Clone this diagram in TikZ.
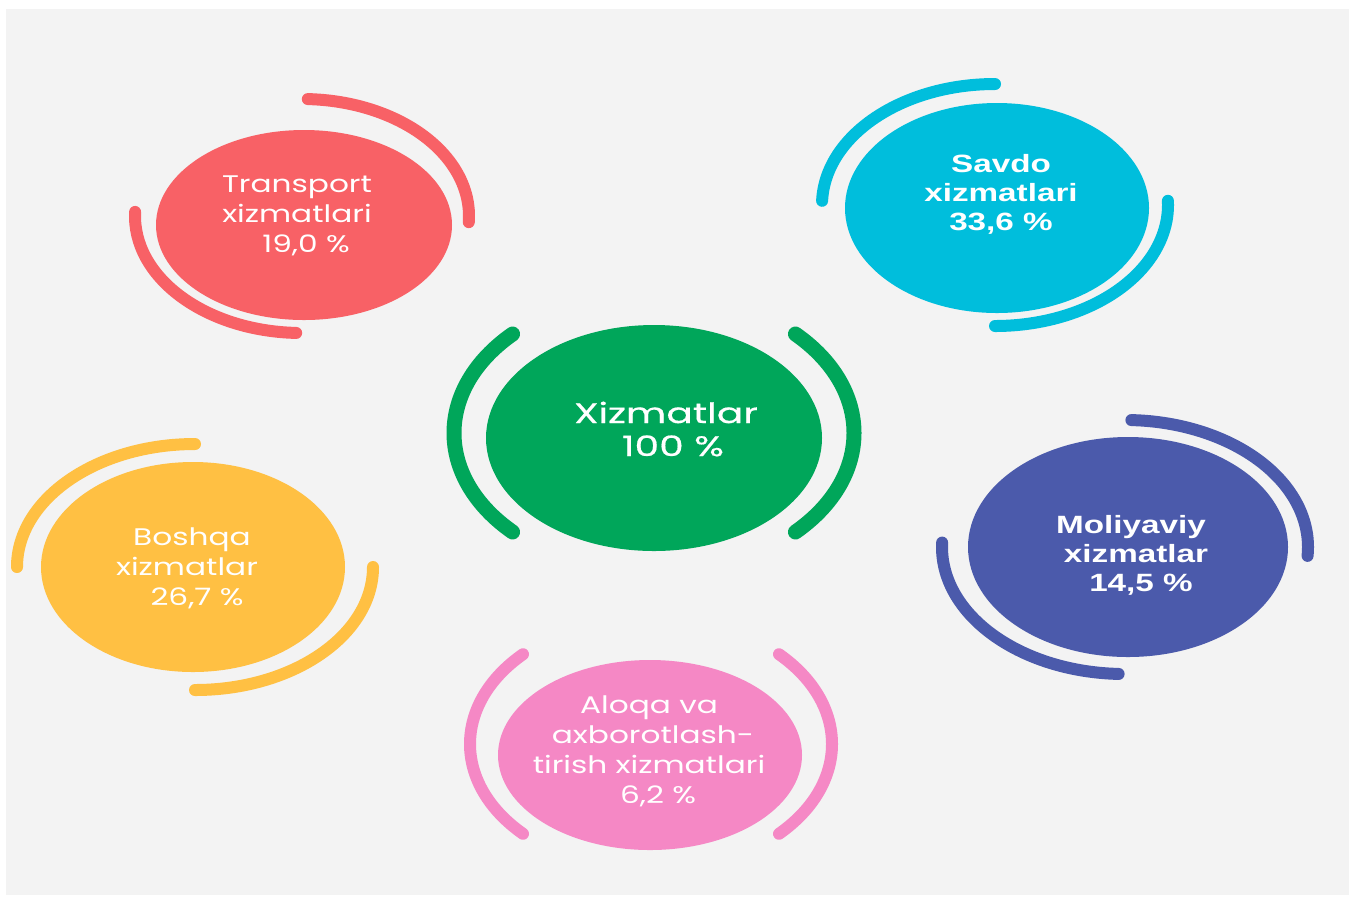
\documentclass[tikz,border=0pt]{standalone}
\usepackage{fontspec}
\setmainfont{Poppins}
\newfontfamily\popw[FakeStretch=1.3]{Poppins}
\newfontfamily\popm[FakeStretch=1.4,FakeBold=0.6]{Poppins}
\newfontfamily\arialb[FakeStretch=1.33]{Liberation Sans}
\usetikzlibrary{shapes.geometric}
\definecolor{bggray}{HTML}{F3F3F3}
\definecolor{cred}{HTML}{F86166}
\definecolor{ccyan}{HTML}{00BEDC}
\definecolor{cgreen}{HTML}{00A65A}
\definecolor{cyellow}{HTML}{FFC043}
\definecolor{cblue}{HTML}{4B5AAB}
\definecolor{cpink}{HTML}{F588C5}
\tikzset{
  blob/.style={ellipse, inner sep=0pt, draw=none},
  ring/.style={line width=6pt, line cap=round},
  lighttxt/.style={text=white, align=center, font=\popw\fontsize{12}{15}\selectfont},
  boldtxt/.style={text=white, align=center, font=\arialb\bfseries\fontsize{12.5}{14.5}\selectfont},
  maintxt/.style={text=white, align=center, font=\popm\fontsize{14}{16.5}\selectfont}
}
\begin{document}
\begin{tikzpicture}[x=0.5pt,y=-0.5pt]
\useasboundingbox (0,0) rectangle (1353,896);
\fill[white] (0,0) rectangle (1353,896);
\fill[bggray] (6,9) rectangle (1349,895);

% Transport
\node[blob, fill=cred, minimum width=148pt, minimum height=95pt] (tr) at (304,225) {};
\draw[ring, cred] (302,216) ++(272:167 and 117) arc[start angle=272, end angle=363, x radius=167, y radius=117];
\draw[ring, cred] (302,216) ++(182:167 and 117) arc[start angle=182, end angle=92, x radius=167, y radius=117];
\node[lighttxt] (trt) at (297,216) {Transport\\xizmatlari\\\hspace*{9pt}19,0 \%};

% Savdo
\node[blob, fill=ccyan, minimum width=152pt, minimum height=105pt] (sv) at (997,208) {};
\draw[ring, ccyan] (995,205) ++(182:173 and 121) arc[start angle=182, end angle=270, x radius=173, y radius=121];
\draw[ring, ccyan] (995,205) ++(358:173 and 121) arc[start angle=358, end angle=450, x radius=173, y radius=121];
\node[boldtxt] (svt) at (1001,194) {Savdo\\xizmatlari\\33,6 \%};

% Xizmatlar
\node[blob, fill=cgreen, minimum width=168pt, minimum height=113pt] (xz) at (654,438) {};
\draw[ring, cgreen, line width=7.5pt] (654,433) ++(135:200 and 140) arc[start angle=135, end angle=225, x radius=200, y radius=140];
\draw[ring, cgreen, line width=7.5pt] (654,433) ++(-45:200 and 140) arc[start angle=-45, end angle=45, x radius=200, y radius=140];
\node[maintxt] (xzt) at (666,429) {Xizmatlar\\\hspace*{7pt}100 \%};

% Boshqa
\node[blob, fill=cyellow, minimum width=152pt, minimum height=105pt] (bq) at (193,567) {};
\draw[ring, cyellow] (195,567) ++(180:178 and 123) arc[start angle=180, end angle=270, x radius=178, y radius=123];
\draw[ring, cyellow] (195,567) ++(0:178 and 123) arc[start angle=0, end angle=90, x radius=178, y radius=123];
\node[lighttxt] (bqt) at (187,568) {\hspace*{5pt}Boshqa\\xizmatlar\\\hspace*{10pt}26,7 \%};

% Moliyaviy
\node[blob, fill=cblue, minimum width=160pt, minimum height=110pt] (ml) at (1128,547) {};
\draw[ring, cblue] (1125,547) ++(272:183 and 127) arc[start angle=272, end angle=364, x radius=183, y radius=127];
\draw[ring, cblue] (1125,547) ++(182:183 and 127) arc[start angle=182, end angle=92, x radius=183, y radius=127];
\node[boldtxt] (mlt) at (1136,555) {\hspace*{-5pt}Moliyaviy\\xizmatlar\\\hspace*{5pt}14,5 \%};

% Aloqa
\node[blob, fill=cpink, minimum width=152pt, minimum height=95pt] (aq) at (650,755) {};
\draw[ring, cpink] (651,744) ++(135:181 and 127) arc[start angle=135, end angle=225, x radius=181, y radius=127];
\draw[ring, cpink] (651,744) ++(-45:181 and 127) arc[start angle=-45, end angle=45, x radius=181, y radius=127];
\node[lighttxt] (aqt) at (649,751) {Aloqa va\\\hspace*{4pt}axborotlash-\\tirish xizmatlari\\\hspace*{9pt}6,2 \%};
\end{tikzpicture}
\end{document}
